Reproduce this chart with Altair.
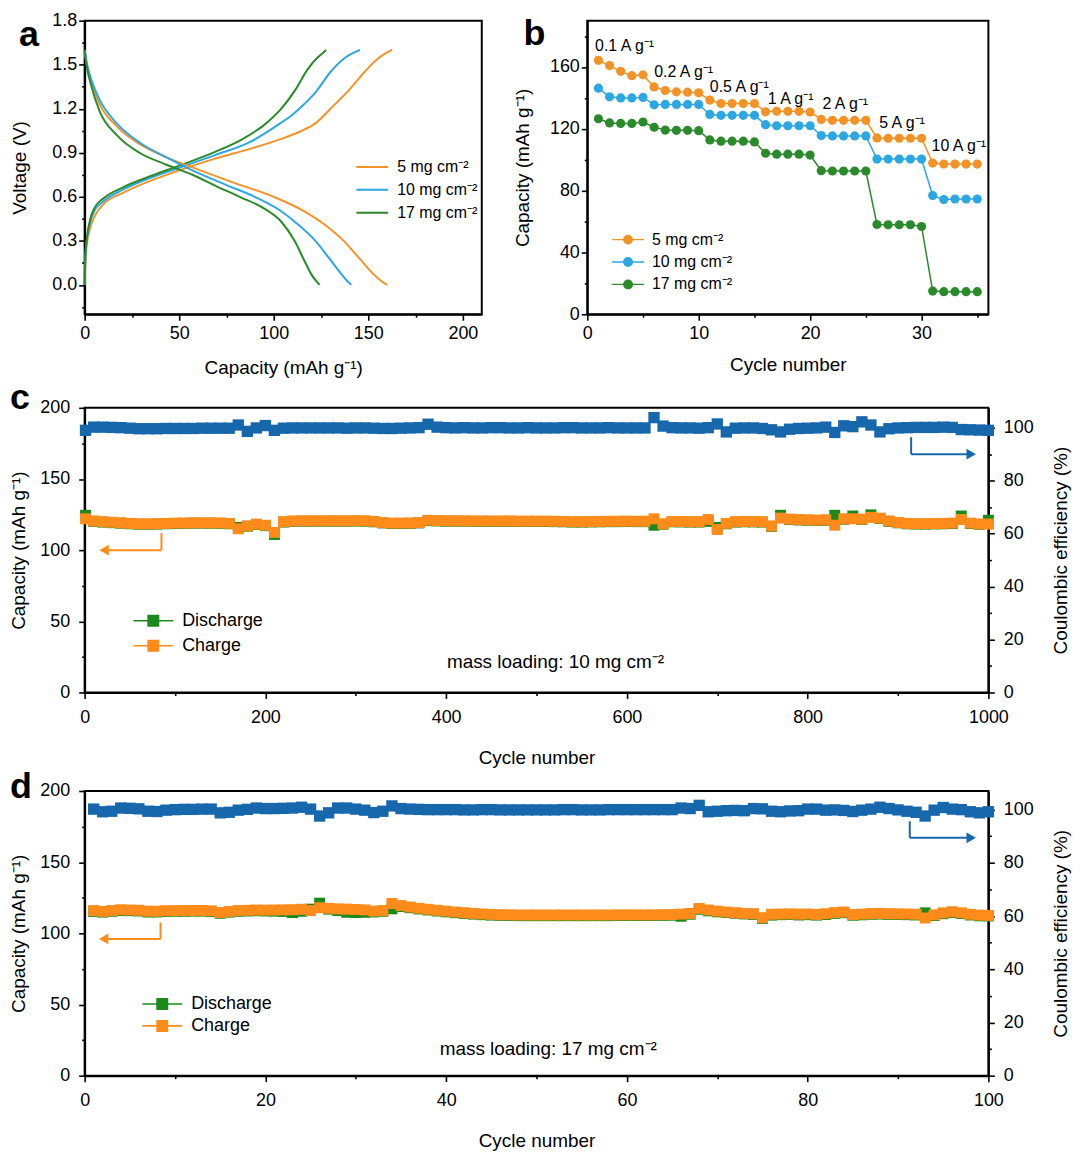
import altair as alt
import pandas as pd

FONT = "Liberation Sans"
A_ORANGE = "#F39327"
A_BLUE = "#2DA7E1"
A_GREEN = "#2B8A2B"
C_ORANGE = "#FF8C1A"
C_GREEN = "#1B8A1B"
C_BLUE = "#1767AD"

# ---------------- (a) charge / discharge profiles ----------------
a_series = ["5 mg cm⁻²", "10 mg cm⁻²", "17 mg cm⁻²"]

a_chg_cap_5 = [0, 0.4, 1.2, 3, 5, 10, 20, 34, 50, 69, 87, 104, 114, 122, 130, 140, 148, 155, 159.5, 162.6]
a_chg_v_5 = [0, 0.17, 0.28, 0.39, 0.46, 0.55, 0.625, 0.705, 0.78, 0.86, 0.925, 0.995, 1.045, 1.10, 1.20, 1.33, 1.45, 1.54, 1.58, 1.60]
a_chg_cap_10 = [0, 0.4, 1.2, 3, 5, 10, 20, 34, 50, 69, 87, 101, 110, 116, 122, 130, 137, 142, 145.6]
a_chg_v_10 = [0, 0.19, 0.31, 0.43, 0.50, 0.57, 0.647, 0.726, 0.798, 0.884, 0.97, 1.08, 1.16, 1.23, 1.31, 1.45, 1.54, 1.58, 1.60]
a_chg_cap_17 = [0, 0.4, 1.2, 3, 5, 10, 20, 34, 50, 69, 83, 95, 104, 111.5, 118, 123.3, 126, 127.7]
a_chg_v_17 = [0, 0.20, 0.32, 0.45, 0.52, 0.59, 0.663, 0.737, 0.812, 0.906, 0.99, 1.09, 1.20, 1.33, 1.47, 1.55, 1.58, 1.60]

a_dis_cap_5 = [0, 0.5, 1.5, 3, 8, 17, 29, 43, 57, 78, 100, 115, 127, 137, 146, 153, 157, 160]
a_dis_v_5 = [1.60, 1.55, 1.48, 1.40, 1.23, 1.08, 0.96, 0.87, 0.80, 0.70, 0.60, 0.51, 0.41, 0.30, 0.17, 0.07, 0.025, 0.0]
a_dis_cap_10 = [0, 0.5, 1.5, 3, 8, 17, 29, 43, 57, 75, 90, 103, 113, 122, 130, 136, 139, 141]
a_dis_v_10 = [1.60, 1.56, 1.49, 1.42, 1.26, 1.10, 0.97, 0.87, 0.78, 0.68, 0.60, 0.51, 0.41, 0.30, 0.17, 0.07, 0.025, 0.0]
a_dis_cap_17 = [0, 0.5, 1.5, 3, 8, 17, 29, 43, 57, 70, 82, 95, 104, 111, 116, 120, 122.5, 124.2]
a_dis_v_17 = [1.60, 1.54, 1.46, 1.38, 1.18, 1.02, 0.90, 0.82, 0.75, 0.67, 0.60, 0.52, 0.43, 0.30, 0.17, 0.07, 0.025, 0.0]

a_xticks = [0, 25, 50, 75, 100, 125, 150, 175, 200]
a_yticks = [-0.15, 0.0, 0.15, 0.3, 0.45, 0.6, 0.75, 0.9, 1.05, 1.2, 1.35, 1.5, 1.65, 1.8]

# ---------------- (b) rate capability ----------------
b_series = ["5 mg cm⁻²", "10 mg cm⁻²", "17 mg cm⁻²"]
b_cycles = list(range(1, 36))
b_cap_5 = [164.3, 160.9, 157.2, 154.4, 154.9, 147.1, 144.8, 143.9, 143.7, 143.3,
           138.6, 136.4, 136.4, 136.4, 136.4, 131.0, 131.3, 131.3, 131.3, 130.8,
           126.1, 125.5, 125.5, 125.5, 125.5, 114.1, 113.9, 113.9, 113.9, 113.9,
           97.8, 97.2, 97.2, 97.2, 97.2]
b_cap_10 = [146.3, 140.7, 140.0, 140.0, 140.3, 135.5, 135.8, 135.8, 135.8, 135.8,
            129.3, 128.7, 128.7, 128.7, 128.7, 122.7, 122.0, 122.0, 122.0, 122.0,
            115.6, 115.4, 115.4, 115.4, 115.4, 100.4, 100.4, 100.4, 100.4, 100.4,
            76.8, 74.2, 74.6, 74.6, 74.6]
b_cap_17 = [126.5, 123.8, 123.5, 123.5, 124.4, 121.0, 119.2, 119.0, 119.0, 118.8,
            112.8, 112.0, 112.0, 112.0, 111.5, 104.2, 103.6, 103.6, 103.6, 103.0,
            92.9, 92.7, 92.7, 92.7, 92.7, 58.1, 57.9, 57.9, 57.9, 56.8,
            15.0, 14.6, 14.6, 14.6, 14.6]
b_rate_text = ["0.1 A g⁻¹", "0.2 A g⁻¹", "0.5 A g⁻¹", "1 A g⁻¹", "2 A g⁻¹", "5 A g⁻¹", "10 A g⁻¹"]
b_rate_x = [0.7, 6.0, 11.0, 16.2, 21.1, 26.2, 30.9]
b_rate_y = [173.7, 156.8, 146.9, 139.4, 135.8, 124.0, 109.0]
b_xticks = [0, 5, 10, 15, 20, 25, 30, 35]
b_yticks = [0, 20, 40, 60, 80, 100, 120, 140, 160, 180]

# ---------------- (c) 1000 cycles, 10 mg cm-2 ----------------
c_cycles = [1] + list(range(10, 1001, 10))
c_ce = [99.0,
        100.2, 100.2, 100.1, 100.0, 99.8, 99.6, 99.6, 99.6, 99.7, 99.7,
        99.7, 99.7, 99.8, 99.8, 99.8, 99.8, 101.0, 98.6, 99.9, 100.8,
        99.0, 99.8, 99.9, 99.9, 99.9, 99.9, 99.9, 99.9, 99.8, 99.9,
        99.9, 99.8, 99.7, 99.7, 99.8, 99.9, 100.0, 101.3, 100.2, 100.0,
        99.9, 100.0, 99.9, 99.9, 100.0, 100.0, 99.9, 99.9, 100.0, 99.9,
        99.9, 99.9, 100.0, 100.0, 99.9, 99.9, 99.9, 100.0, 99.9, 99.9,
        99.9, 99.9, 103.8, 100.6, 100.0, 99.9, 99.9, 99.8, 100.0, 101.4,
        98.4, 99.8, 99.9, 99.9, 99.7, 99.2, 98.4, 99.4, 99.7, 99.8,
        99.9, 100.2, 98.2, 100.7, 100.4, 102.2, 101.0, 98.4, 99.6, 99.9,
        100.0, 100.1, 100.1, 100.1, 100.2, 100.1, 99.3, 99.2, 99.1, 99.0]
c_charge = [122.0,
            120.5, 120.0, 119.6, 119.2, 118.8, 118.5, 118.5, 118.6, 118.8, 119.0,
            119.1, 119.2, 119.2, 119.2, 119.1, 118.8, 115.0, 117.0, 118.3, 117.5,
            112.5, 120.0, 120.5, 120.6, 120.6, 120.6, 120.6, 120.6, 120.6, 120.7,
            120.6, 120.2, 119.4, 119.0, 119.0, 119.1, 119.4, 121.0, 120.8, 120.6,
            120.6, 120.6, 120.5, 120.5, 120.5, 120.5, 120.5, 120.4, 120.4, 120.4,
            120.4, 120.3, 120.2, 120.0, 120.0, 120.1, 120.2, 120.3, 120.3, 120.4,
            120.3, 120.3, 122.0, 118.5, 120.2, 120.1, 120.0, 120.0, 121.5, 114.5,
            118.8, 120.0, 120.2, 120.1, 120.0, 117.0, 122.5, 121.8, 121.5, 121.3,
            121.1, 121.3, 117.5, 122.0, 122.0, 121.8, 123.0, 122.5, 120.5, 119.5,
            118.8, 118.6, 118.6, 118.7, 118.8, 119.0, 121.5, 119.0, 118.4, 118.3]
c_discharge = [124.5,
               120.2, 119.7, 119.3, 118.9, 118.5, 118.2, 118.2, 118.3, 118.5, 118.7,
               118.8, 118.9, 118.9, 118.9, 118.8, 118.5, 116.0, 116.8, 118.0, 117.2,
               111.0, 119.7, 120.2, 120.3, 120.3, 120.3, 120.3, 120.3, 120.3, 120.4,
               120.3, 119.9, 119.1, 118.7, 118.7, 118.8, 119.1, 120.7, 120.5, 120.3,
               120.3, 120.3, 120.2, 120.2, 120.2, 120.2, 120.2, 120.1, 120.1, 120.1,
               120.1, 120.0, 119.9, 119.7, 119.7, 119.8, 119.9, 120.0, 120.0, 120.1,
               120.0, 120.0, 117.5, 118.2, 119.9, 119.8, 119.7, 119.7, 120.2, 116.0,
               118.5, 119.7, 119.9, 119.8, 119.7, 116.7, 124.5, 121.5, 121.2, 121.0,
               120.8, 121.0, 124.5, 121.7, 124.0, 121.5, 124.8, 122.2, 120.2, 119.2,
               118.5, 118.3, 118.3, 118.4, 118.5, 118.7, 124.0, 118.7, 118.1, 121.0]
c_note = "mass loading: 10 mg cm⁻²"
c_note_x, c_note_y = 521, 17.5
c_xticks = [0, 100, 200, 300, 400, 500, 600, 700, 800, 900, 1000]

# ---------------- (d) 100 cycles, 17 mg cm-2 ----------------
d_cycles = list(range(1, 101))
d_ce = [100.2, 99.2, 99.4, 100.6, 100.5, 100.3, 99.4, 99.3, 99.8, 100.0,
        100.1, 100.1, 100.2, 100.2, 98.8, 99.0, 99.8, 100.1, 100.6, 100.4,
        100.4, 100.5, 100.6, 100.9, 100.2, 97.6, 98.8, 100.6, 100.6, 100.2,
        99.8, 98.9, 99.4, 101.4, 100.4, 100.2, 100.1, 100.0, 100.0, 100.0,
        100.0, 99.9, 99.9, 100.0, 100.0, 99.9, 99.9, 99.9, 99.9, 99.9,
        99.9, 99.9, 100.0, 100.0, 99.9, 99.9, 99.9, 100.0, 100.0, 100.0,
        100.0, 100.0, 100.0, 100.0, 100.0, 100.6, 100.4, 101.6, 99.2, 99.4,
        99.6, 99.7, 99.6, 100.4, 100.3, 99.4, 99.2, 99.5, 99.6, 100.2,
        100.2, 99.8, 99.9, 99.7, 99.3, 99.8, 100.2, 100.9, 100.4, 99.9,
        99.4, 99.0, 97.6, 99.8, 100.8, 100.2, 100.0, 99.2, 98.8, 99.2]
d_charge = [116.0, 115.4, 116.0, 116.6, 116.4, 116.2, 115.6, 115.5, 115.9, 116.0,
            116.0, 116.1, 116.1, 115.8, 114.6, 115.4, 116.0, 116.2, 116.4, 116.3,
            116.4, 116.5, 116.6, 116.9, 116.0, 118.0, 117.6, 117.2, 117.0, 116.8,
            116.5, 115.6, 116.0, 121.0, 119.5, 118.5, 117.6, 116.9, 116.2, 115.6,
            115.0, 114.5, 114.0, 113.6, 113.3, 113.1, 113.0, 112.9, 112.9, 112.9,
            112.9, 112.9, 112.9, 112.9, 112.9, 112.9, 112.9, 112.9, 113.0, 113.0,
            113.0, 113.0, 113.0, 113.1, 113.2, 113.5, 114.0, 117.5, 116.4, 115.6,
            115.0, 114.5, 114.0, 113.8, 111.0, 113.4, 113.6, 113.7, 113.5, 113.6,
            113.3, 113.8, 114.6, 115.0, 113.2, 113.5, 113.9, 114.0, 113.8, 113.7,
            113.6, 113.4, 110.8, 113.0, 114.4, 115.2, 114.4, 113.4, 112.8, 112.6]
d_discharge = [115.4, 114.9, 115.5, 116.0, 115.9, 115.7, 115.0, 115.0, 115.4, 115.5,
               115.5, 115.6, 115.6, 115.3, 114.1, 114.9, 115.5, 115.7, 115.9, 115.7,
               115.6, 115.4, 114.6, 115.5, 117.0, 121.2, 117.0, 116.0, 114.8, 114.6,
               114.8, 115.0, 115.5, 117.2, 118.8, 118.0, 117.1, 116.4, 115.7, 115.1,
               114.5, 114.0, 113.5, 113.1, 112.8, 112.6, 112.5, 112.4, 112.4, 112.4,
               112.4, 112.4, 112.4, 112.4, 112.4, 112.4, 112.4, 112.4, 112.5, 112.5,
               112.5, 112.5, 112.5, 112.6, 112.7, 112.0, 113.4, 116.9, 115.8, 115.1,
               114.6, 114.1, 113.6, 113.3, 110.5, 112.8, 113.1, 113.2, 112.9, 113.1,
               112.8, 113.2, 114.0, 114.5, 112.7, 113.0, 113.4, 113.5, 113.3, 113.2,
               113.1, 112.9, 114.4, 112.5, 113.8, 114.6, 113.9, 112.9, 112.3, 112.2]
d_note = "mass loading: 17 mg cm⁻²"
d_note_x, d_note_y = 51.3, 14.4
d_xticks = [0, 10, 20, 30, 40, 50, 60, 70, 80, 90, 100]

cap_yticks = [0, 25, 50, 75, 100, 125, 150, 175, 200]
ce_yticks = [0, 10, 20, 30, 40, 50, 60, 70, 80, 90, 100]
cd_kinds = ["Discharge", "Charge"]

# arrow annotations (data coordinates)
c_arrow_left = dict(x=[85, 85], x2=[85, 21.5], y=[112, 100], y2=[100, 100], hx=21.5, hy=100)
c_arrow_right = dict(x=[914.5, 914.5], x2=[914.5, 981], y=[96.4, 90], y2=[90, 90], hx=981, hy=90)
d_arrow_left = dict(x=[8.4, 8.4], x2=[8.4, 2.1], y=[107.7, 96.1], y2=[96.1, 96.1], hx=2.1, hy=96.1)
d_arrow_right = dict(x=[91.3, 91.3], x2=[91.3, 98.1], y=[95.6, 89.4], y2=[89.4, 89.4], hx=98.1, hy=89.4)


# ---------------- helpers ----------------
def make_axis(values, test, title, fmt, orient=None, label_pad=3, title_pad=10, **extra):
    kw = dict(values=values, format=fmt,
              labelExpr=f"({test}) ? datum.label : ''",
              tickSize={"condition": {"test": test, "value": 6}, "value": 3},
              title=title, labelPadding=label_pad, titlePadding=title_pad)
    if orient:
        kw["orient"] = orient
    kw.update(extra)
    return alt.Axis(**kw)


def letter(t, dx, dy):
    return alt.TitleParams(t, anchor="start", orient="top", frame="group", dx=dx, dy=dy, offset=0,
                           fontSize=36, fontWeight="bold", font=FONT, color="black", baseline="alphabetic")


W_A, W_B, H_TOP = 399, 403, 295
W_CD, H_CD = 908, 286

# ---------------- panel a ----------------
a_rows = []
for name, caps, volts, branch in [
    (a_series[0], a_chg_cap_5, a_chg_v_5, "charge"),
    (a_series[1], a_chg_cap_10, a_chg_v_10, "charge"),
    (a_series[2], a_chg_cap_17, a_chg_v_17, "charge"),
    (a_series[0], a_dis_cap_5, a_dis_v_5, "discharge"),
    (a_series[1], a_dis_cap_10, a_dis_v_10, "discharge"),
    (a_series[2], a_dis_cap_17, a_dis_v_17, "discharge"),
]:
    for i, (c, v) in enumerate(zip(caps, volts)):
        a_rows.append(dict(series=name, branch=branch, i=i, cap=c, v=v))
a_df = pd.DataFrame(a_rows)

a_chart = alt.Chart(a_df).mark_line(strokeWidth=2, interpolate="monotone").encode(
    x=alt.X("cap:Q", scale=alt.Scale(domain=[0, 210], nice=False, zero=False),
            axis=make_axis(a_xticks, "datum.value % 50 === 0", "Capacity (mAh g⁻¹)", "d", label_pad=4, title_pad=17)),
    y=alt.Y("v:Q", scale=alt.Scale(domain=[-0.2, 1.8], nice=False, zero=False),
            axis=make_axis(a_yticks, "abs(round(datum.value*100)) % 30 === 0", "Voltage (V)", ".1f", label_pad=2, title_pad=22)),
    color=alt.Color("series:N", scale=alt.Scale(domain=a_series, range=[A_ORANGE, A_BLUE, A_GREEN]),
                    legend=alt.Legend(orient="none", legendX=280, legendY=138, title=None,
                                      symbolType="M-2,0H2", symbolSize=256, symbolStrokeWidth=2,
                                      labelOffset=16, rowPadding=6, labelFontSize=16, labelFont=FONT,
                                      labelColor="black")),
    detail="branch:N",
    order="i:Q",
).properties(width=W_A, height=H_TOP, title=letter("a", -66, 70))

# ---------------- panel b ----------------
b_rows = []
for name, vals in zip(b_series, [b_cap_5, b_cap_10, b_cap_17]):
    for cyc, v in zip(b_cycles, vals):
        b_rows.append(dict(series=name, cycle=cyc, cap=v))
b_df = pd.DataFrame(b_rows)
b_xs = alt.Scale(domain=[0, 36], nice=False, zero=False)
b_ys = alt.Scale(domain=[0, 190], nice=False, zero=False)
b_cs = alt.Scale(domain=b_series, range=[A_ORANGE, A_BLUE, A_GREEN])
b_xaxis = make_axis(b_xticks, "datum.value % 10 === 0", "Cycle number", "d", label_pad=4, title_pad=14)
b_yaxis = make_axis(b_yticks, "datum.value % 40 === 0", "Capacity (mAh g⁻¹)", "d", label_pad=2, title_pad=17)
b_legend = alt.Legend(orient="none", legendX=33, legendY=212, title=None,
                      symbolType="M-2,-0.09H2V0.09H-2Z M0.62,0A0.62,0.62 0 1,1 -0.62,0A0.62,0.62 0 1,1 0.62,0Z",
                      symbolSize=256, symbolStrokeWidth=0, labelOffset=16, rowPadding=6.5,
                      labelFontSize=16, labelFont=FONT, labelColor="black")

b_pts = alt.Chart(b_df).mark_point(filled=True, size=85, opacity=1, shape="circle").encode(
    x=alt.X("cycle:Q", scale=b_xs, axis=b_xaxis),
    y=alt.Y("cap:Q", scale=b_ys, axis=b_yaxis),
    color=alt.Color("series:N", scale=b_cs, legend=b_legend),
)
b_line = alt.Chart(b_df).mark_line(strokeWidth=1.5).encode(
    x=alt.X("cycle:Q", scale=b_xs, axis=b_xaxis),
    y=alt.Y("cap:Q", scale=b_ys, axis=b_yaxis),
    color=alt.Color("series:N", scale=b_cs, legend=b_legend),
    detail="series:N",
)
b_text = alt.Chart(pd.DataFrame({"x": b_rate_x, "y": b_rate_y, "t": b_rate_text})).mark_text(
    align="left", baseline="middle", fontSize=16, font=FONT, color="black").encode(
    x=alt.X("x:Q", scale=b_xs, axis=b_xaxis), y=alt.Y("y:Q", scale=b_ys, axis=b_yaxis), text="t:N")
b_chart = alt.layer(b_pts, b_line, b_text).properties(width=W_B, height=H_TOP, title=letter("b", -64, 60))


# ---------------- panels c / d ----------------
def cycling_panel(cycles, ce, charge, discharge, note, note_x, note_y, xticks, xtest, xmax,
                  ce_max, arrow_l, arrow_r, legend_x, legend_y, row_pad, let, let_dx, let_dy, title_pad_x):
    xs = alt.Scale(domain=[0, xmax], nice=False, zero=False)
    ys_l = alt.Scale(domain=[0, 200], nice=False, zero=False)
    ys_r = alt.Scale(domain=[0, ce_max], nice=False, zero=False)
    xaxis = make_axis(xticks, xtest, "Cycle number", "d", label_pad=10, title_pad=title_pad_x)
    yaxis_l = make_axis(cap_yticks, "datum.value % 50 === 0", "Capacity (mAh g⁻¹)", "d",
                        label_pad=9, title_pad=11)
    yaxis_r = make_axis(ce_yticks, "datum.value % 20 === 0", "Coulombic efficiency (%)", "d",
                        orient="right", label_pad=9, title_pad=18, titleAngle=270, titleBaseline="top")
    X = lambda f: alt.X(f, scale=xs, axis=xaxis)
    YL = lambda f: alt.Y(f, scale=ys_l, axis=yaxis_l)
    YR = lambda f: alt.Y(f, scale=ys_r, axis=yaxis_r)

    rows = []
    for cyc, v in zip(cycles, discharge):
        rows.append(dict(cycle=cyc, cap=v, kind="Discharge"))
    for cyc, v in zip(cycles, charge):
        rows.append(dict(cycle=cyc, cap=v, kind="Charge"))
    cap_df = pd.DataFrame(rows)
    pts = alt.Chart(cap_df).mark_point(shape="square", filled=True, size=121, opacity=1).encode(
        x=X("cycle:Q"), y=YL("cap:Q"),
        color=alt.Color("kind:N", scale=alt.Scale(domain=cd_kinds, range=[C_GREEN, C_ORANGE]),
                        legend=alt.Legend(orient="none", legendX=legend_x, legendY=legend_y, title=None,
                                          symbolType="M-2,-0.08H2V0.08H-2Z M-0.6,-0.6H0.6V0.6H-0.6Z",
                                          symbolSize=400, symbolStrokeWidth=0, labelOffset=19,
                                          rowPadding=row_pad, labelFontSize=18, labelFont=FONT,
                                          labelColor="black")),
    )
    txt = alt.Chart(pd.DataFrame({"x": [note_x], "y": [note_y], "t": [note]})).mark_text(
        align="center", baseline="alphabetic", fontSize=19, font=FONT, color="black").encode(
        x=X("x:Q"), y=YL("y:Q"), text="t:N")
    al = pd.DataFrame({"x": arrow_l["x"], "x2": arrow_l["x2"], "y": arrow_l["y"], "y2": arrow_l["y2"]})
    rule_l = alt.Chart(al).mark_rule(color=C_ORANGE, strokeWidth=2).encode(
        x=X("x:Q"), x2="x2:Q", y=YL("y:Q"), y2="y2:Q")
    head_l = alt.Chart(pd.DataFrame({"x": [arrow_l["hx"]], "y": [arrow_l["hy"]]})).mark_point(
        shape="triangle-left", filled=True, size=120, opacity=1, color=C_ORANGE).encode(
        x=X("x:Q"), y=YL("y:Q"))
    left = alt.layer(pts, txt, rule_l, head_l)

    ce_df = pd.DataFrame({"cycle": cycles, "ce": ce})
    ce_pts = alt.Chart(ce_df).mark_point(shape="square", filled=True, size=130, opacity=1, color=C_BLUE).encode(
        x=X("cycle:Q"), y=YR("ce:Q"))
    ar = pd.DataFrame({"x": arrow_r["x"], "x2": arrow_r["x2"], "y": arrow_r["y"], "y2": arrow_r["y2"]})
    rule_r = alt.Chart(ar).mark_rule(color=C_BLUE, strokeWidth=2).encode(
        x=X("x:Q"), x2="x2:Q", y=YR("y:Q"), y2="y2:Q")
    head_r = alt.Chart(pd.DataFrame({"x": [arrow_r["hx"]], "y": [arrow_r["hy"]]})).mark_point(
        shape="triangle-right", filled=True, size=120, opacity=1, color=C_BLUE).encode(
        x=X("x:Q"), y=YR("y:Q"))
    right = alt.layer(ce_pts, rule_r, head_r)

    return alt.layer(left, right).resolve_scale(y="independent").properties(
        width=W_CD, height=H_CD, title=letter(let, let_dx, let_dy))


c_chart = cycling_panel(c_cycles, c_ce, c_charge, c_discharge, c_note, c_note_x, c_note_y,
                        c_xticks, "datum.value % 200 === 0", 1000, 107.5,
                        c_arrow_left, c_arrow_right, 59, 204, 6, "c", -75, 46, 22)
d_chart = cycling_panel(d_cycles, d_ce, d_charge, d_discharge, d_note, d_note_x, d_note_y,
                        d_xticks, "datum.value % 20 === 0", 100, 107,
                        d_arrow_left, d_arrow_right, 68, 204, 3, "d", -75, 52, 22)

top = alt.hconcat(a_chart, b_chart, spacing=106, bounds="flush").resolve_scale(
    color="independent").resolve_legend(color="independent")

chart = alt.vconcat(top, c_chart, d_chart, spacing=0).resolve_scale(
    color="independent").resolve_legend(color="independent").properties(
    padding=0, background="white"
).configure(font=FONT).configure_view(
    stroke="black", strokeWidth=2
).configure_axis(
    domainColor="black", domainWidth=2, tickColor="black", tickWidth=1.6,
    labelColor="black", titleColor="black", labelFont=FONT, titleFont=FONT,
    labelFontSize=18, titleFontSize=19, titleFontWeight="normal", grid=False,
    labelOverlap=False, labelFlush=False
).configure_legend(padding=0)

chart.save("out.html", embed_options={"renderer": "svg", "actions": False})
